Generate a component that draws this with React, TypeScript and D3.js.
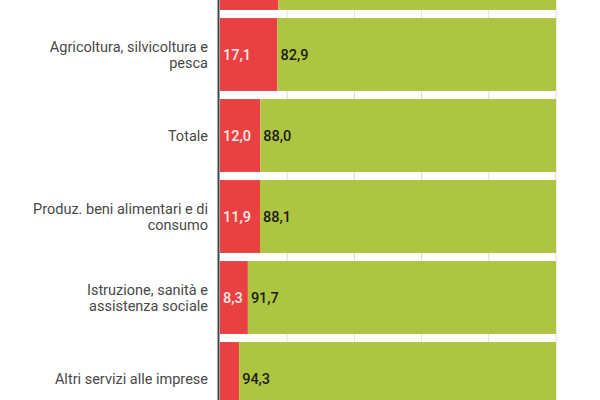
import { useEffect, useRef } from 'react'
import * as d3 from 'd3'

// top bar is cut off in the reference, its label is outside the frame
const categories = [
  '',
  'Agricoltura, silvicoltura e\npesca',
  'Totale',
  'Produz. beni alimentari e di\nconsumo',
  'Istruzione, sanità e\nassistenza sociale',
  'Altri servizi alle imprese'
]
const redValues = [17.4, 17.1, 12.0, 11.9, 8.3, 5.7]
const greenValues = [82.6, 82.9, 88.0, 88.1, 91.7, 94.3]
const gridTicks = [20, 40, 60, 80, 100]

const RED = '#e94141'
const GREEN = '#adc541'

const fmt = (v: number) => v.toFixed(1).replace('.', ',')

export default function App() {
  const svgRef = useRef<SVGSVGElement>(null)
  const width = 600
  const height = 400

  useEffect(() => {
    if (!svgRef.current) return
    const svg = d3.select(svgRef.current)
    svg.selectAll('*').remove()

    const keys = categories.map((_, i) => String(i))

    const x = d3.scaleLinear()
      .domain([0, 100])
      .range([220, 556])

    const y = d3.scaleBand()
      .domain(keys)
      .range([-67, 419])
      .paddingInner(0.1)
      .paddingOuter(0.05)

    // Gridlines behind the bars
    gridTicks.forEach(t => {
      svg.append('line')
        .attr('x1', x(t))
        .attr('x2', x(t))
        .attr('y1', 0)
        .attr('y2', height)
        .style('stroke', '#dcdcdc')
        .style('stroke-width', '1px')
    })

    const font = 'Roboto, sans-serif'

    keys.forEach((k, i) => {
      const y0 = y(k) as number
      const bh = y.bandwidth()
      const cy = y0 + bh / 2
      const r = redValues[i]
      const g = greenValues[i]

      svg.append('rect')
        .attr('x', x(0))
        .attr('y', y0)
        .attr('width', x(r) - x(0))
        .attr('height', bh)
        .style('fill', RED)

      svg.append('rect')
        .attr('x', x(r))
        .attr('y', y0)
        .attr('width', x(r + g) - x(r))
        .attr('height', bh)
        .style('fill', GREEN)

      // labels of the bar that sits outside the frame are not drawn
      if (cy < 0) return

      if (r >= 7) {
        svg.append('text')
          .attr('x', x(0) + 3)
          .attr('y', cy)
          .attr('dy', '0.35em')
          .style('fill', '#fde8e8')
          .style('font-size', '14.5px')
          .style('font-weight', '500')
          .style('font-family', font)
          .text(fmt(r))
      }

      svg.append('text')
        .attr('x', x(r) + 3)
        .attr('y', cy)
        .attr('dy', '0.35em')
        .style('fill', '#1c1c1c')
        .style('font-size', '14.5px')
        .style('font-weight', '500')
        .style('font-family', font)
        .text(fmt(g))

      // Category label, right aligned, pre-wrapped
      const lines = categories[i] ? categories[i].split('\n') : []
      const lh = 16
      const startY = cy - ((lines.length - 1) * lh) / 2
      lines.forEach((line, j) => {
        svg.append('text')
          .attr('x', 208)
          .attr('y', startY + j * lh)
          .attr('dy', '0.35em')
          .attr('text-anchor', 'end')
          .style('fill', '#484848')
          .style('font-size', '14.5px')
          .style('font-family', font)
          .text(line)
      })
    })

    // Baseline axis
    svg.append('line')
      .attr('x1', 218.5)
      .attr('x2', 218.5)
      .attr('y1', 0)
      .attr('y2', height)
      .style('stroke', '#444')
      .style('stroke-width', '2px')
  }, [])

  return (
    <svg
      ref={svgRef}
      width={width}
      height={height}
      style={{ position: 'absolute', left: 0, top: 0, background: '#fff' }}
    />
  )
}
